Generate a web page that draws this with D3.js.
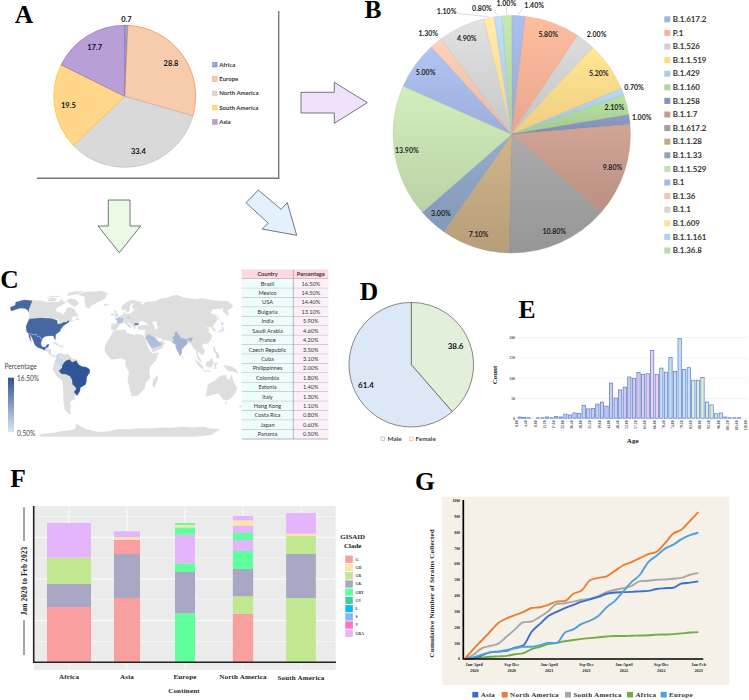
<!DOCTYPE html>
<html><head><meta charset="utf-8">
<script src="https://cdnjs.cloudflare.com/ajax/libs/d3/7.8.5/d3.min.js"></script>
<style>html,body{margin:0;padding:0;background:#fff}svg{display:block}</style>
</head><body><svg id="c" width="749" height="700"></svg>
<script>
// ---------- DATA ----------
const aCategories=["Africa","Europe","North America","South America","Asia"];
const aValues=[0.7,28.8,33.4,19.5,17.7];
const bCategories=["B.1.617.2","P.1","B.1.526","B.1.1.519","B.1.429","B.1.160","B.1.258","B.1.1.7","B.1.617.2","B.1.1.28","B.1.1.33","B.1.1.529","B.1","B.1.36","B.1.1","B.1.609","B.1.1.161","B.1.36.8"];
const bValues=[1.4,5.8,2.0,5.2,0.7,2.1,1.0,9.8,10.8,7.1,3.0,13.9,5.0,1.3,4.9,1.1,0.8,1.0];
const cCountries=["Brazil","Mexico","USA","Bulgaria","India","Saudi Arabia","France","Czech Republic","Cuba","Philippinnes","Colombia","Estonia","Italy","Hong Kong","Costa Rica","Japan","Panama"];
const cPercent=[16.5,14.5,14.4,13.1,5.9,4.6,4.2,3.5,3.1,2.0,1.8,1.4,1.3,1.1,0.8,0.6,0.5];
const dCategories=["Female","Male"];
const dValues=[38.6,61.4];
const eCounts=[3,2,1,0,1,1,3,1,4,3,10,8,13,12,32,23,24,35,40,30,87,50,70,77,102,99,113,109,110,168,108,124,114,150,116,197,121,125,94,94,101,40,33,11,13,3,1,1,1,0];
const eTickValues=["0.00","4.40","8.80","13.20","17.60","22.00","26.40","30.80","35.20","39.60","44.00","48.40","52.80","57.20","61.60","66.00","70.40","74.80","79.20","83.60","88.00","92.40","96.80","101.20","105.60","110.00"];
const fContinents=["Africa","Asia","Europe","North America","South America"];
const fClades=["G","GH","GR","GK","GRY","GV","L","S","V","GRA"];
const fAfricaClades=["G","GK","GR","GRA"];
const fAfricaValues=[33.2,14,15.6,20.8];
const fAsiaClades=["G","GK","G","GH","GRA"];
const fAsiaValues=[38.6,26.4,8.4,1.6,3.6];
const fEuropeClades=["GRY","GK","GRY","GRA","GRY","GH","GRY"];
const fEuropeValues=[29.4,24.8,5.2,17.2,4.4,1.4,1.2];
const fNorthAmericaClades=["G","GR","GK","GRY","GRA","GRY","GRA","GH","GRA"];
const fNorthAmericaValues=[29.2,10.4,16.4,10.8,6.6,4.2,4.4,3.2,2.6];
const fSouthAmericaClades=["GR","GK","GR","GH","GRA"];
const fSouthAmericaValues=[38.6,26.4,10.8,1.4,12.4];
const gAsia=[0,5,20,40,45,50,70,85,170,220,270,295,320,340,360,375,390,410,418,420,422,425,428,440,445,448,475,480,488];
const gNorthAmerica=[0,60,115,170,225,255,275,295,320,325,340,360,365,410,430,495,510,520,555,590,610,635,660,675,730,790,815,870,925];
const gSouthAmerica=[0,25,65,80,95,140,185,230,235,265,300,345,350,360,372,378,395,420,435,445,460,490,492,498,500,505,510,530,540];
const gAfrica=[0,3,7,12,15,18,28,35,60,75,92,100,110,118,125,130,135,140,143,143,145,146,148,152,153,155,160,165,168];
const gEurope=[0,10,25,40,45,55,65,75,75,85,100,100,165,185,220,240,270,325,365,425,485,530,610,650,695,720,755,780,795];
const gXLabels=[["Jan-April","2020"],["Sep-Dec","2020"],["Jan-April","2021"],["Sep-Dec","2021"],["Jan-April","2022"],["Sep-Dec","2022"],["Jan-Feb","2023"]];

// map outlines, lon/lat
const landOutlines=[
 [[-141,70],[-128,70],[-115,68],[-108,68],[-96,68],[-94,72],[-88,68],[-82,69],[-86,66],[-94,60],[-92,57],[-82,55],[-80,51.5],[-79,55],[-77,62],[-70,61],[-65,59],[-60,54],[-56,52],[-66,50],[-65,48.5],[-61,46],[-67,45],[-69,47.3],[-71,45],[-75,45],[-79,43],[-82.5,43],[-84,46.5],[-89,48],[-95,49],[-124.7,48.4],[-130,55],[-135,58],[-141,60]],
 [[-80,73],[-70,71],[-62,66],[-67,62],[-75,65],[-85,70]],
 [[-90,76],[-75,78],[-62,82.5],[-80,83],[-92,81]],
 [[-117,73],[-105,73],[-102,69],[-115,69]],
 [[-125,74],[-116,76],[-100,76],[-105,74.5],[-118,74]],
 [[-59,51],[-53,47],[-59,47.5]],
 [[-73,78],[-60,82],[-32,83.5],[-18,80],[-22,72],[-32,68],[-42,63],[-44,60],[-50,62],[-54,68],[-58,75]],
 [[-24,65.5],[-15,66],[-14,64.8],[-20,63.5]],
 [[-92,14.6],[-91,17],[-88,18],[-88.5,16],[-84,15.8],[-83.5,11],[-85.8,10],[-87.5,13]],
 [[-74,20],[-69,19.7],[-68.5,18.3],[-74,18.2]],
 [[-72,12],[-68,10.5],[-62,10.7],[-60,8.5],[-57,6],[-52,5],[-51.5,4],[-57,2],[-60,5],[-64,4],[-67,2],[-67.5,6],[-72,7],[-71.5,10]],
 [[-78.8,1.5],[-75,0],[-73,-2.5],[-70,-4.3],[-74,-7.5],[-70,-11],[-65.3,-11],[-60,-13.5],[-58,-17],[-58,-22],[-54.5,-25],[-54,-27],[-57.5,-30],[-53.5,-34],[-58,-34.5],[-57,-38],[-62,-39],[-65,-41],[-65,-45],[-68,-50],[-68,-54.5],[-72,-53.5],[-75,-48],[-73,-38],[-71,-30],[-70,-18],[-76,-14],[-81,-6],[-80,-2]],
 [[-6,35.5],[10,37],[11,33.5],[20,31],[25,32],[32,31],[34.5,28],[37,21],[39,15.5],[43,11.5],[51,12],[47,4],[40,-3],[39,-8],[40.5,-15],[35,-20],[35,-24],[32.5,-28],[26,-34],[18.5,-34.5],[15,-27],[12,-17],[13.5,-9],[9,-1],[9.5,4],[4,6.3],[-4,5],[-8,4.5],[-13,9],[-17,14.7],[-16,21],[-10,29]],
 [[49.5,-12],[50,-16],[47,-25],[44,-24],[44,-17]],
 [[-9,37],[-9.3,43],[-2,43.5],[-1,46],[-4.5,48.5],[1.5,50.5],[4,52],[8,54],[8.5,57],[10.5,57],[10,54.5],[14,54],[19,54.5],[21,57],[24,57.5],[24,59.5],[30,60],[23,60],[21,62],[25,65.5],[22,65.8],[17.5,62],[18.5,59.5],[16,56],[13,55.5],[11,59],[6,58],[5,62],[14,68],[25,71],[41,67],[35,66.5],[40,65],[44,68],[60,69],[68,71],[73,73],[85,74],[105,77.5],[113,74],[130,71.5],[140,73],[160,70],[179.9,69],[179.9,65],[177,62],[170,60],[163,58],[162,55],[157,51],[155.5,57],[160,61],[155,59.5],[142,59],[135,54.5],[141,53],[140,48],[132,43],[127.5,39.5],[129.5,36],[126.5,34.5],[126,37],[125,39.5],[121,39],[118,39],[122,37],[119,35],[122,31],[121,28],[116,23],[110,21],[108,21.5],[106,19],[109,14],[107,10.5],[105,9],[103,11],[100.5,13.5],[99.5,10],[103.5,4],[103.5,1.5],[101,3],[98,8],[98,15],[94.5,16],[94,19],[91.5,22.5],[88.5,22],[87,21],[85,19.5],[80.3,15.5],[80,12],[77.5,8],[76,11],[73,17],[72.8,21],[68,23.5],[66,25],[57,25.5],[56.5,27],[51,28],[48.5,30],[50,26],[51.5,24],[54,24],[56.3,25.5],[59.8,22.5],[55,17],[45,13],[43,12.8],[42,16],[39,21.5],[35,28],[34.5,31.5],[36,36.5],[30,36.5],[27,37],[26.5,40],[29,41],[35,42],[41.5,41.5],[38,44.5],[33,46],[30,46],[28,43],[28,41],[24,40.8],[23,38],[22,36.7],[19.5,41],[14,45],[12.5,44],[18.5,40],[16,38],[12,42],[9,44.3],[3.5,43.3],[0,39.5],[-2,37],[-5.5,36]],
 [[-5.5,50],[1.5,51.5],[-2,56],[-3,58.5],[-6,57],[-3.5,54],[-5,52]],
 [[-10,52],[-6,52],[-6,55],[-10,54]],
 [[142,54],[143.5,50],[142.5,46],[142,50]],
 [[140,42],[142,45.5],[145,43.5],[143,42]],
 [[121,25],[122,25],[120.8,22]],
 [[95,5.5],[100,2.5],[106,-3],[105.5,-6],[101,-3],[97,2]],
 [[105.5,-6.5],[114,-7],[114.5,-8.5],[106,-7.8]],
 [[109,1.5],[113,3],[117,7],[119,1],[116,-4],[110,-3]],
 [[119.5,-5],[120,1],[125,1.5],[121.5,-1],[123,-5]],
 [[131,-1],[141,-2.7],[147,-6],[150.5,-10.5],[144,-8],[138,-8],[133,-4]],
 [[80,9.5],[82,7.5],[80.5,6]],
 [[114,-22],[122,-18],[126,-14],[130,-12],[136,-12],[136,-15],[140,-17.5],[142,-11],[146,-19],[153,-26],[153,-31],[150,-37],[146,-39],[140,-38],[136,-35],[131,-31.5],[124,-33],[116,-35],[115,-31]],
 [[145,-41],[148,-41],[147,-43.5]],
 [[173,-35],[178,-38],[175,-41.5],[174,-39]],
 [[172,-41],[174,-42],[170,-46.5],[167,-46],[171,-42]],
 [[-147,-83],[-115,-83],[-85,-83],[-55,-83],[-25,-83],[5,-83],[35,-83],[65,-83],[95,-83],[125,-83],[150,-83],[172,-80],[172,-72],[140,-69],[105,-69],[70,-70],[35,-71],[0,-72],[-35,-76],[-60,-69],[-66,-65],[-72,-72],[-100,-75],[-130,-78],[-147,-80]]
];
const waterOutlines=[[[47,45],[53,46],[53,38],[50,37],[49,40]],[[-92,48],[-84,48],[-80,44],[-87,42]]];
const countryOutlines={
 "USA":[
  [[-124.7,48.4],[-95,49],[-89,48],[-84,46.5],[-82.5,43],[-79,43],[-75,45],[-71,45],[-69,47.3],[-67,45],[-70,43],[-74,40.5],[-76,37],[-76,35],[-81,31.5],[-80,25.5],[-82,27],[-84,30],[-89,30],[-94,29.5],[-97.3,27],[-97.2,26],[-99.5,27.5],[-101.5,30],[-104.5,29.5],[-106.5,31.8],[-111,31.3],[-115,32.5],[-117.2,32.5],[-120.5,34.5],[-124,40],[-124.5,44]],
  [[-141,70],[-156,71],[-166,68],[-161,64],[-166,62],[-162,59],[-158,57],[-165,54.5],[-153,59],[-148,60.5],[-141,60],[-135,58],[-130,55],[-134,59]]],
 "Mexico":[[[-117.2,32.5],[-115,32.5],[-111,31.3],[-106.5,31.8],[-104.5,29.5],[-101.5,30],[-99.5,27.5],[-97.2,26],[-97.8,22],[-96,19],[-94,18.2],[-91,18.7],[-90.5,21],[-87,21.5],[-88,18],[-91,17],[-92,14.6],[-96,16],[-102,18],[-105.5,20.5],[-109,25.5],[-112.5,29.5],[-114.5,31],[-112,27],[-110,23],[-112,25],[-115,28.5]]],
 "Brazil":[[[-51.5,4],[-50,1],[-48,-1],[-44,-2.7],[-40,-3],[-35,-5.5],[-35,-9],[-39,-14],[-39.5,-18],[-41,-22],[-48,-25.5],[-49,-29],[-53.5,-34],[-57.5,-30],[-54,-27],[-54.5,-25],[-58,-22],[-58,-17],[-60,-13.5],[-65.3,-11],[-70,-11],[-74,-7.5],[-70,-4.3],[-69.5,-1],[-67,2],[-64,4],[-60,5],[-57,2]]],
 "Colombia":[[[-77.3,8.5],[-75,11],[-72,12.2],[-71.5,10],[-72,7],[-67.5,6],[-67,2],[-69.5,-1],[-70,-4.3],[-73,-2.5],[-75,0],[-78.8,1.5],[-77.5,5]]],
 "Costa Rica":[[[-85.8,11],[-83.6,11],[-82.6,9.5],[-83,8.3],[-85.8,10]]],
 "Panama":[[[-82.9,9.5],[-79.5,9.6],[-77.3,8.5],[-78,7.5],[-80.5,7.5],[-83,8.3]]],
 "Cuba":[[[-85,22],[-80,23.2],[-74.2,20.2],[-77.7,19.9],[-78,21],[-82,22.5]]],
 "France":[[[-1.8,43.4],[-1,46],[-4.5,48.5],[1.5,50.5],[4,50],[8,49],[7,44],[3.5,43.3]]],
 "Italy":[[[7,44],[7,46],[12,47],[13.5,45.7],[12.5,44],[18.5,40],[16,38],[12,42],[9,44.3]]],
 "Czech Republic":[[[12.2,50.3],[15,51],[18.8,49.5],[17,48.7],[13.8,48.7]]],
 "Estonia":[[[23.5,59.3],[28,59.5],[27.5,57.6],[24.3,58]]],
 "Bulgaria":[[[22.5,44],[28.5,43.7],[28,42],[22.5,41.3]]],
 "Saudi Arabia":[[[34.8,28],[37.5,30.5],[39,32],[42,31],[46.5,29],[48.5,28],[50,26],[51.5,24],[55,22.5],[55,20],[52,19],[48,18],[45,17.5],[43,16.5],[41,19],[39,21.5],[37,25]]],
 "India":[[[68,23.5],[71,24.5],[70,28],[74,31],[74,34.5],[78,35],[79,31],[81,30],[80,28.5],[88,26.5],[88.3,28],[89,27],[92,28],[97,28.5],[96,27],[93,23],[91.5,25],[89,25.5],[88.5,22],[87,21],[85,19.5],[80.3,15.5],[80,12],[77.5,8],[76,11],[73,17],[72.8,21]]],
 "Philippinnes":[[[120,18.5],[122,18],[122,14],[124,12.5],[126,9],[126,6],[122,7],[123,10],[120,14]]],
 "Japan":[[[130,31.5],[132,34],[136,34],[140,35],[141.5,38],[141.5,41],[140,41],[139,38],[136,36.8],[131,34]]],
 "Hong Kong":[[[113.6,22.7],[114.8,22.7],[114.8,22],[113.6,22]]]
};

// ---------- DRAW ----------
const svg=d3.select("#c");
const serif='"Liberation Serif","Times New Roman",serif', sans='Lato,"Open Sans",sans-serif';
const defs=svg.append("defs");

// panel letters
const letters=[["A",24,23],["B",373,18],["C",9.5,288],["D",369,300],["E",527,318],["F",18,487],["G",425,490]];
svg.append("g").selectAll("text").data(letters).join("text")
 .attr("x",d=>d[1]).attr("y",d=>d[2]).attr("text-anchor","middle")
 .attr("font-family",serif).attr("font-weight",700).attr("font-size",25.5).attr("fill","#000").text(d=>d[0]);

// arrows
const arrows=[
 ["#f1e2fb",[[301,92.3],[334.3,92.3],[334.3,82.3],[367.3,102.7],[334.3,123.3],[334.3,113],[301,113]]],
 ["#e9fbe4",[[108.3,200],[130,200],[130,226],[140.7,226],[119.3,252.7],[98,226],[108.3,226]]],
 ["#e1f1fd",[[258.3,190],[281,209.3],[287.3,202.7],[296.7,235.3],[262,229],[268.3,223.3],[246,202.7]]]
];
svg.append("g").selectAll("path").data(arrows).join("path")
 .attr("d",d=>d3.line()(d[1])+"Z").attr("fill",d=>d[0]).attr("stroke","#555").attr("stroke-width",0.8);

// ---- A ----
const aFill=["#8faadc","#f8cbad","#d9d9d9","#ffd68a","#b89fd8"], aStroke=["#4472c4","#ed7d31","#b5b5b5","#ffc000","#8a63c0"];
const A=svg.append("g").attr("transform","translate(124.7,96.3)");
const aR=71, aArc=d3.arc().innerRadius(0).outerRadius(aR);
const aPie=d3.pie().sort(null)(aValues);
A.selectAll("path").data(aPie).join("path").attr("d",aArc).attr("fill",(d,i)=>aFill[i]).attr("stroke",(d,i)=>aStroke[i]).attr("stroke-width",0.6);
A.selectAll("text").data(aPie).join("text").attr("transform",(d,i)=>{
  const r=i===0?77:57, a=(d.startAngle+d.endAngle)/2;
  return `translate(${r*Math.sin(a)},${-r*Math.cos(a)})`;})
 .attr("text-anchor","middle").attr("dy","0.35em").attr("font-family",sans).attr("font-weight",700).attr("font-size",7.5).attr("fill","#111").text(d=>d.data);
svg.append("path").attr("d","M37 178.3H278.7V11").attr("fill","none").attr("stroke","#777").attr("stroke-width",1.4);
const aLegY=d3.scalePoint().domain(aCategories).range([64.7,122]);
const aLeg=svg.append("g").selectAll("g").data(aCategories).join("g").attr("transform",d=>`translate(212.7,${aLegY(d)})`);
aLeg.append("rect").attr("y",-2.3).attr("width",4.4).attr("height",4.6).attr("fill",(d,i)=>aFill[i]).attr("stroke",(d,i)=>aStroke[i]).attr("stroke-width",0.4);
aLeg.append("text").attr("x",6.6).attr("dy","0.35em").attr("font-family",sans).attr("font-weight",700).attr("font-size",6).attr("fill","#333").text(d=>d);

// ---- B ----
const bColors=["#9fb4e0","#f6b195","#cfcfcf","#ffd98a","#a9ccec","#aed59a","#8494bc","#c59a8c","#a0a0a0","#c3a982","#8da2c3","#c6dfb0","#a6b9e6","#f8c4ae","#d4d4d4","#ffdf9e","#b4d2ee","#b9dca6"];
bColors.forEach((c,i)=>{
 const g=defs.append("linearGradient").attr("id","bg"+i).attr("x1",0).attr("x2",0).attr("y1",0).attr("y2",1);
 g.append("stop").attr("offset",0).attr("stop-color",d3.color(c).brighter(0.18));
 g.append("stop").attr("offset",1).attr("stop-color",d3.color(c).darker(0.18));
});
const B=svg.append("g").attr("transform","translate(511.7,134.3)");
const bR=118.7, bArc=d3.arc().innerRadius(0).outerRadius(bR);
const bPie=d3.pie().sort(null)(bValues);
B.selectAll("path").data(bPie).join("path").attr("d",bArc).attr("fill",(d,i)=>`url(#bg${i})`).attr("stroke",(d,i)=>d3.color(bColors[i]).darker(0.3)).attr("stroke-width",0.4);
const bNudge={0:[6.6,131],2:[2,131],15:[-17,138.6],16:[-6.8,129]}; // label shift from slice mid-angle (deg) and radius
const bPos=(d,i)=>{
  const a=(d.startAngle+d.endAngle)/2, n=bNudge[i], out=d.data<=2;
  const r=n?n[1]:(out?131:106), a2=a+(n?n[0]:0)*Math.PI/180;
  return [r*Math.sin(a2),-r*Math.cos(a2)];};
B.selectAll("line").data(bPie.filter((d,i)=>i===0||i>=15)).join("line").each(function(d){
  const i=bPie.indexOf(d),a=(d.startAngle+d.endAngle)/2,p=bPos(d,i);
  const ex=i===17?p[0]:p[0]-Math.sign(p[0])*11, ey=i===17?p[1]+4:p[1]+1.5;
  d3.select(this).attr("x1",(bR+1)*Math.sin(a)).attr("y1",-(bR+1)*Math.cos(a)).attr("x2",ex).attr("y2",ey);
}).attr("stroke","#bbb").attr("stroke-width",0.5);
B.selectAll("text").data(bPie).join("text").attr("transform",(d,i)=>`translate(${bPos(d,i)})`)
 .attr("text-anchor","middle").attr("dy","0.35em").attr("font-family",sans).attr("font-weight",700).attr("font-size",7).attr("fill","#222").text(d=>d.data.toFixed(2)+"%");
const bLegY=d3.scaleLinear().domain([0,17]).range([19.3,250.5]);
const bLeg=svg.append("g").selectAll("g").data(bCategories).join("g").attr("transform",(d,i)=>`translate(664.3,${bLegY(i)})`);
bLeg.append("rect").attr("y",-3).attr("width",6).attr("height",6).attr("fill",(d,i)=>bColors[i]);
bLeg.append("text").attr("x",8.4).attr("dy","0.35em").attr("font-family",sans).attr("font-weight",700).attr("font-size",7.9).attr("fill","#333").text(d=>d);

// ---- C map ----
const proj=d3.geoNaturalEarth1().scale(53).translate([118,364]).precision(0.3);
const geoP=d3.geoPath(proj);
const polyF=rings=>{const cs=rings.map(r=>{
   const ring=[...r,r[0]];
   const t={type:"Polygon",coordinates:[ring]};
   if(d3.geoArea(t)>2*Math.PI) ring.reverse();
   return ring;});
   return {type:"MultiPolygon",coordinates:cs.map(r=>[r])};};
const cColor=d3.scaleLinear().domain([0.5,16.5]).range(["#d9e4f5","#2f5597"]);
const M=svg.append("g");
M.selectAll("path.l").data(landOutlines).join("path").attr("class","l").attr("d",r=>geoP(polyF([r]))).attr("fill","#dedede").attr("stroke","#eee").attr("stroke-width",0.2);
M.selectAll("path.w").data(waterOutlines).join("path").attr("class","w").attr("d",r=>geoP(polyF([r]))).attr("fill","#fff");
M.selectAll("path.c").data(cCountries.filter(n=>countryOutlines[n])).join("path").attr("class","c")
 .attr("d",n=>geoP(polyF(countryOutlines[n]))).attr("fill",n=>cColor(cPercent[cCountries.indexOf(n)])).attr("stroke","#f4f4f4").attr("stroke-width",0.2);
// gradient legend
const lg=defs.append("linearGradient").attr("id","cLeg").attr("x1",0).attr("x2",0).attr("y1",0).attr("y2",1);
lg.append("stop").attr("offset",0).attr("stop-color",cColor(16.5));
lg.append("stop").attr("offset",1).attr("stop-color",cColor(0.5));
svg.append("rect").attr("x",8).attr("y",377.7).attr("width",6).attr("height",54.5).attr("fill","url(#cLeg)");
svg.append("g").attr("font-family",sans).attr("fill","#444").attr("font-size",6.6).selectAll("text")
 .data([["Percentage",4.5,368.5],["16.50%",17,380.5],["0.50%",17,435.5]]).join("text").attr("x",d=>d[1]).attr("y",d=>d[2]).text(d=>d[0]);
// table
const T=svg.append("g");
const tX=d3.scaleOrdinal().domain([0,1,2]).range([241.7,293.3,328.3]);
const tY=d3.scaleLinear().domain([0,18]).range([269.5,439]);
const tRows=[["Country","Percentage"],...cCountries.map((c,i)=>[c,cPercent[i].toFixed(2)+"%"])];
tRows.forEach((r,i)=>{
 T.append("rect").attr("x",tX(0)).attr("y",tY(i)).attr("width",tX(1)-tX(0)).attr("height",tY(1)-tY(0)).attr("fill",i?"#eefcfb":"#ffd9e2");
 T.append("rect").attr("x",tX(1)).attr("y",tY(i)).attr("width",tX(2)-tX(1)).attr("height",tY(1)-tY(0)).attr("fill",i?"#fdf1f9":"#ffd9e2");
 T.append("line").attr("x1",tX(0)).attr("x2",tX(2)).attr("y1",tY(i+1)).attr("y2",tY(i+1)).attr("stroke","#6b6b78").attr("stroke-width",0.5);
 r.forEach((t,j)=>T.append("text").attr("x",(tX(j)+tX(j+1))/2).attr("y",tY(i)+tY(1)/2-tY(0)/2).attr("dy","0.35em").attr("text-anchor","middle")
   .attr("font-family",sans).attr("font-weight",i?400:700).attr("font-size",5.6).attr("fill","#333").text(t));
});
T.append("line").attr("x1",tX(1)).attr("x2",tX(1)).attr("y1",tY(0)).attr("y2",tY(18)).attr("stroke","#8a8a95").attr("stroke-width",0.6);

// ---- D ----
const D=svg.append("g").attr("transform","translate(411.3,364.7)");
const dArc=d3.arc().innerRadius(0).outerRadius(62.3);
const dPie=d3.pie().sort(null)(dValues);
const dColors=["#e2efda","#dde8f6"];
D.selectAll("path").data(dPie).join("path").attr("d",dArc).attr("fill",(d,i)=>dColors[i]).attr("stroke","#5c5650").attr("stroke-width",0.7);
D.selectAll("text").data(dPie).join("text").attr("transform",(d,i)=>{
   const a=(d.startAngle+d.endAngle)/2,r=i?49.6:48,ang=i?a-0.06:a-0.04;
   return `translate(${r*Math.sin(ang)},${-r*Math.cos(ang)})`;})
 .attr("text-anchor","middle").attr("dy","0.35em").attr("font-family",sans).attr("font-weight",700).attr("font-size",8).attr("fill","#111").text(d=>d.data);
const dLeg=svg.append("g").attr("font-family",sans).attr("font-weight",700).attr("font-size",6.4).attr("fill","#444");
[["Male",381,"#7fbf8f",388],["Female",409.5,"#f0a878",416]].forEach(l=>{
 dLeg.append("rect").attr("x",l[1]).attr("y",437).attr("width",3.6).attr("height",3.6).attr("fill","#fff").attr("stroke",l[2]).attr("stroke-width",0.6);
 dLeg.append("text").attr("x",l[3]-0.5).attr("y",441.3).text(l[0]);
});

// ---- E ----
const eX=d3.scaleBand().domain(d3.range(eCounts.length)).range([517.4,517.4+4.57*eCounts.length]).paddingInner(0.28).paddingOuter(0.14);
const eY=d3.scaleLinear().domain([0,200]).range([418.2,337.4]);
const eFill=d3.scaleLinear().domain([0,14,24,30,31,37,38,42,44,50]).range(["#b6ccf0","#c5cff2","#d0c6ee","#f0d0e8","#c8daf5","#c5e2f8","#d8efd8","#dcf0d2","#cce0f4","#b6ccf0"]);
const E=svg.append("g");
E.append("g").attr("transform","translate(518,0)").call(d3.axisLeft(eY).tickValues([0,50,100,150,200]).tickSize(0).tickFormat(d3.format("d")))
 .call(g=>g.select(".domain").remove())
 .call(g=>g.selectAll("text").attr("font-family",serif).attr("font-weight",700).attr("font-size",3.8).attr("fill","#555").attr("x",-3))
 .call(g=>g.selectAll(".tick").append("line").attr("x2",229).attr("stroke","#e4e4e4").attr("stroke-width",0.5));
E.selectAll("rect").data(eCounts).join("rect").attr("x",(d,i)=>eX(i)).attr("width",eX.bandwidth()).attr("y",d=>eY(d)).attr("height",d=>eY(0)-eY(d))
 .attr("fill",(d,i)=>eFill(i)).attr("stroke","#4a72c8").attr("stroke-width",0.65);
const eTickX=d3.scalePoint().domain(eTickValues).range([517,745.7]);
E.selectAll("text.t").data(eTickValues).join("text").attr("class","t").attr("transform",d=>`translate(${eTickX(d)+1.3},420.5) rotate(-90)`)
 .attr("text-anchor","end").attr("font-family",serif).attr("font-weight",700).attr("font-size",3.7).attr("fill","#555").text(d=>d);
E.append("text").attr("transform","translate(497,375) rotate(-90)").attr("text-anchor","middle").attr("font-family",serif).attr("font-weight",700).attr("font-size",7).attr("fill","#222").text("Count");
E.append("text").attr("x",632.7).attr("y",443).attr("text-anchor","middle").attr("font-family",serif).attr("font-weight",700).attr("font-size",7).attr("fill","#222").text("Age");

// ---- F ----
const fColors=d3.scaleOrdinal().domain(fClades).range(["#fa9f9f","#ffe3a8","#c2e88f","#a8a8c4","#5fff9e","#3fcfa8","#00bfff","#85b4ff","#ff6ec7","#e5b5fb"]);
svg.append("rect").attr("x",34).attr("y",506).attr("width",301.7).attr("height",164).attr("fill","#ebebeb");
const fX=d3.scaleBand().domain(fContinents).range([40,330]);
const fY=d3.scaleLinear().domain([0,93.8]).range([662.3,506]);
const F=svg.append("g");
F.selectAll("line.h").data(d3.range(12.5,90,12.5)).join("line").attr("class","h").attr("x1",34).attr("x2",335.7).attr("y1",d=>fY(d)).attr("y2",d=>fY(d))
 .attr("stroke","#fff").attr("stroke-width",(d,i)=>i%2?0.9:0.45);
F.selectAll("line.v").data(fContinents).join("line").attr("class","v").attr("x1",d=>fX(d)+fX.bandwidth()/2).attr("x2",d=>fX(d)+fX.bandwidth()/2).attr("y1",506).attr("y2",670).attr("stroke","#fff").attr("stroke-width",0.8);
const fWidths=[44,26,20,20.3,29.7];
const fStacks=[[fAfricaClades,fAfricaValues],[fAsiaClades,fAsiaValues],[fEuropeClades,fEuropeValues],[fNorthAmericaClades,fNorthAmericaValues],[fSouthAmericaClades,fSouthAmericaValues]];
fStacks.forEach((s,k)=>{
 let acc=0; const cx=fX(fContinents[k])+fX.bandwidth()/2;
 s[1].forEach((v,j)=>{
  F.append("rect").attr("x",cx-fWidths[k]/2).attr("width",fWidths[k]).attr("y",fY(acc+v)).attr("height",fY(acc)-fY(acc+v)).attr("fill",fColors(s[0][j]));
  acc+=v;
 });
});
F.append("path").attr("d","M33.7 506V662.3H336").attr("fill","none").attr("stroke","#222").attr("stroke-width",1.6);
F.selectAll("text.x").data(fContinents).join("text").attr("class","x").attr("x",d=>fX(d)+fX.bandwidth()/2).attr("y",(d,i)=>i===4?679.5:678.8).attr("text-anchor","middle")
 .attr("font-family",serif).attr("font-weight",700).attr("font-size",7).attr("letter-spacing",0.2).attr("fill","#222").text(d=>d);
F.append("text").attr("x",184).attr("y",693).attr("text-anchor","middle").attr("font-family",serif).attr("font-weight",700).attr("font-size",7).attr("letter-spacing",0.2).attr("fill","#222").text("Continent");
F.append("text").attr("transform","translate(26.5,581) rotate(-90)").attr("text-anchor","middle").attr("font-family",serif).attr("font-weight",700).attr("font-size",7.4).attr("letter-spacing",0.1).attr("fill","#222").text("Jan 2020 to Feb 2023");
F.append("path").attr("d","M24 507.3V541M24 620V655").attr("stroke","#777").attr("stroke-width",1.3).attr("fill","none");
F.selectAll("text.tt").data(["GISAID","Clade"]).join("text").attr("class","tt").attr("x",352.7).attr("y",(d,i)=>538.5+i*9.3).attr("text-anchor","middle").attr("font-family",serif).attr("font-weight",700).attr("font-size",7).attr("fill","#222").text(d=>d);
const fLegY=d3.scalePoint().domain(fClades).range([559.3,633.3]);
const fLeg=F.append("g").selectAll("g").data(fClades).join("g").attr("transform",d=>`translate(345.5,${fLegY(d)})`);
fLeg.append("rect").attr("y",-3.4).attr("width",7.2).attr("height",6.8).attr("fill",d=>fColors(d)).attr("stroke",d=>d3.color(fColors(d)).darker(0.3)).attr("stroke-width",0.3);
fLeg.append("text").attr("x",10).attr("dy","0.35em").attr("font-family",serif).attr("font-weight",700).attr("font-size",3.8).attr("fill","#333").text(d=>d);

// ---- G ----
svg.append("rect").attr("x",442.3).attr("y",496.7).attr("width",287).attr("height",188.3).attr("fill","#f5f1e8");
const gNames=["Asia","North America","South America","Africa","Europe"];
const gSeries=[gAsia,gNorthAmerica,gSouthAmerica,gAfrica,gEurope];
const gCol=["#3a6fcb","#ed7d31","#a8a8a8","#70ad47","#4fa0de"];
const gX=d3.scaleLinear().domain([0,28]).range([465,698.3]);
const gY=d3.scaleLinear().domain([0,1000]).range([658.7,500.3]);
const G=svg.append("g");
G.append("g").attr("transform","translate(463.3,0)").call(d3.axisLeft(gY).ticks(10).tickSize(0).tickFormat(d3.format("d")))
 .call(g=>g.select(".domain").remove())
 .call(g=>g.selectAll("text").attr("font-family",serif).attr("font-weight",700).attr("font-size",3.8).attr("fill","#222").attr("x",-3.3));
const gLine=d3.line().x((d,i)=>gX(i)).y(d=>gY(d)).curve(d3.curveMonotoneX);
G.selectAll("path.s").data([gAfrica,gSouthAmerica,gAsia,gEurope,gNorthAmerica]).join("path").attr("class","s").attr("d",gLine).attr("fill","none")
 .attr("stroke",d=>gCol[gSeries.indexOf(d)]).attr("stroke-width",1.9).attr("stroke-linejoin","round");
G.append("path").attr("d","M463.3 500V659H703.3").attr("fill","none").attr("stroke","#000").attr("stroke-width",1.7);
const gXL=d3.scalePoint().domain(d3.range(gXLabels.length)).range([474.3,698.7]);
G.selectAll("text.x").data(gXLabels).join("text").attr("class","x").attr("transform",(d,i)=>`translate(${gXL(i)},665.5)`).attr("text-anchor","middle")
 .attr("font-family",serif).attr("font-weight",700).attr("font-size",4.2).attr("fill","#222")
 .selectAll("tspan").data(d=>d).join("tspan").attr("x",0).attr("dy",(d,i)=>i?6:0).text(d=>d);
G.append("text").attr("transform","translate(434,593.3) rotate(-90)").attr("text-anchor","middle").attr("font-family",serif).attr("font-weight",700).attr("font-size",7.1).attr("letter-spacing",0.12).attr("fill","#222").text("Cumulative Number of Strains Collected");
const gLegX=[472.3,501.7,565,627,660.7];
const gLeg=G.append("g").selectAll("g").data(gNames).join("g").attr("transform",(d,i)=>`translate(${gLegX[i]},694.7)`);
gLeg.append("rect").attr("y",-2.8).attr("width",6).attr("height",5.6).attr("fill",(d,i)=>gCol[i]);
gLeg.append("text").attr("x",8.4).attr("dy","0.35em").attr("font-family",serif).attr("font-weight",700).attr("font-size",7).attr("letter-spacing",0.3).attr("fill","#333").text(d=>d);
</script></body></html>
